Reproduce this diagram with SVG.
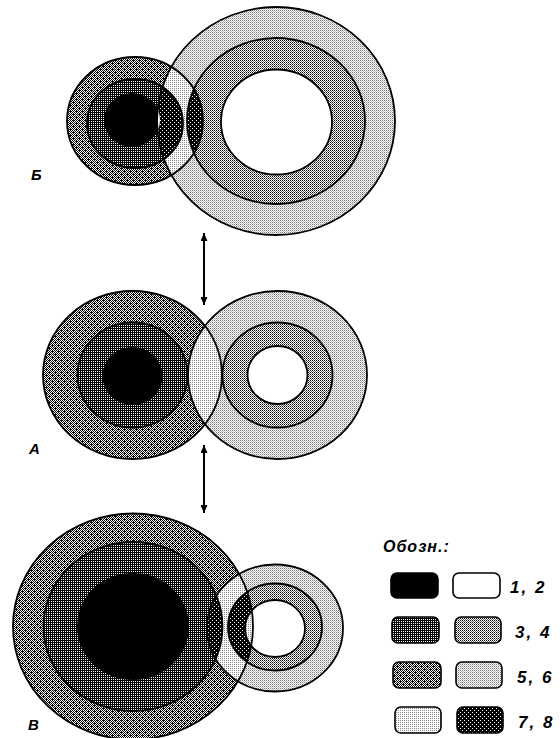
<svg xmlns="http://www.w3.org/2000/svg" width="560" height="738" viewBox="0 0 560 738">
<style>
.s{fill:none;stroke:#000;stroke-width:1.8}
.lbl{font-family:"Liberation Sans",Arial,sans-serif;font-weight:bold;font-style:italic;fill:#000}
.lg{stroke:#000;stroke-width:1.6}
.con{stroke:#000;stroke-width:2;fill:none}
</style>
<defs>
<pattern id="chk" width="2" height="2" patternUnits="userSpaceOnUse"><rect width="2" height="2" fill="#fff"/><rect width="1" height="1" fill="#000"/><rect x="1" y="1" width="1" height="1" fill="#000"/></pattern>
<pattern id="p3" width="2" height="2" patternUnits="userSpaceOnUse"><rect width="2" height="2" fill="#000"/><rect x="1" y="1" width="1" height="1" fill="#fff"/></pattern>
<pattern id="p4" width="2" height="2" patternUnits="userSpaceOnUse"><rect width="2" height="2" fill="#fff"/><rect width="1" height="1" fill="#000"/><rect x="1" y="1" width="1" height="1" fill="#666"/></pattern>
<pattern id="p5" width="6" height="6" patternUnits="userSpaceOnUse"><rect width="6" height="6" fill="url(#chk)"/><rect x="1" y="0" width="1" height="1" fill="#000"/><rect x="4" y="3" width="1" height="1" fill="#000"/></pattern>
<pattern id="p6" width="2" height="2" patternUnits="userSpaceOnUse"><rect width="2" height="2" fill="#fff"/><rect width="1" height="1" fill="#777"/><rect x="1" y="1" width="1" height="1" fill="#bbb"/></pattern>
<pattern id="p7" width="2" height="2" patternUnits="userSpaceOnUse"><rect width="2" height="2" fill="#fff"/><rect width="1" height="1" fill="#888"/></pattern>
<pattern id="p8" width="4" height="4" patternUnits="userSpaceOnUse"><rect width="4" height="4" fill="#000"/><rect width="1" height="1" fill="#fff"/><rect x="2" y="2" width="1" height="1" fill="#fff"/></pattern>
<clipPath id="bLo"><ellipse cx="135" cy="121" rx="68" ry="64"/></clipPath>
<clipPath id="bLm"><ellipse cx="135" cy="123.5" rx="48" ry="44.5"/></clipPath>
<clipPath id="bLc"><ellipse cx="132" cy="120" rx="28" ry="27"/></clipPath>
<clipPath id="aLo"><ellipse cx="132.5" cy="375" rx="89.5" ry="84"/></clipPath>
<clipPath id="vLo"><ellipse cx="133" cy="626.5" rx="120" ry="113"/></clipPath>
<clipPath id="vLm"><ellipse cx="133" cy="626.5" rx="89.5" ry="84.5"/></clipPath>
<marker id="ah" viewBox="0 0 8 7" refX="8" refY="3.5" markerWidth="8" markerHeight="7" markerUnits="userSpaceOnUse" orient="auto-start-reverse"><path d="M0,0 L8,3.5 L0,7 z" fill="#000"/></marker>
</defs>

<g id="fig-B-top">
<ellipse cx="135" cy="121" rx="68" ry="64" fill="url(#p5)"/>
<ellipse cx="135" cy="123.5" rx="48" ry="44.5" fill="url(#p3)"/>
<ellipse cx="132" cy="120" rx="28" ry="27" fill="#000"/>
<ellipse cx="276" cy="121" rx="119" ry="114" fill="url(#p6)"/>
<ellipse cx="276" cy="121" rx="89" ry="83" fill="url(#p4)"/>
<ellipse cx="276.5" cy="122" rx="55.5" ry="52.5" fill="#fff"/>
<g clip-path="url(#bLo)">
<ellipse cx="276" cy="121" rx="119" ry="114" fill="url(#p7)"/>
<ellipse cx="276" cy="121" rx="89" ry="83" fill="url(#p8)"/>
</g>
<g clip-path="url(#bLm)"><ellipse cx="276" cy="121" rx="119" ry="114" fill="url(#p8)"/></g>
<g clip-path="url(#bLc)"><ellipse cx="276" cy="121" rx="119" ry="114" fill="#fff"/></g>
<ellipse class="s" cx="135" cy="121" rx="68" ry="64"/>
<ellipse class="s" cx="135" cy="123.5" rx="48" ry="44.5"/>
<ellipse class="s" cx="276" cy="121" rx="119" ry="114"/>
<ellipse class="s" cx="276" cy="121" rx="89" ry="83"/>
<ellipse class="s" cx="276.5" cy="122" rx="55.5" ry="52.5"/>
<text class="lbl" x="31" y="180" font-size="15">Б</text>
</g>

<g id="fig-A">
<ellipse cx="132.5" cy="375" rx="89.5" ry="84" fill="url(#p5)"/>
<ellipse cx="132.5" cy="375" rx="55" ry="52.5" fill="url(#p3)"/>
<ellipse cx="132.5" cy="376" rx="30" ry="29" fill="#000"/>
<ellipse cx="277.5" cy="375" rx="89.5" ry="84" fill="url(#p6)"/>
<ellipse cx="277.5" cy="375" rx="55" ry="52.5" fill="url(#p4)"/>
<ellipse cx="277.5" cy="375" rx="30" ry="29" fill="#fff"/>
<g clip-path="url(#aLo)"><ellipse cx="277.5" cy="375" rx="89.5" ry="84" fill="url(#p7)"/></g>
<ellipse class="s" cx="132.5" cy="375" rx="89.5" ry="84"/>
<ellipse class="s" cx="132.5" cy="375" rx="55" ry="52.5"/>
<ellipse class="s" cx="277.5" cy="375" rx="89.5" ry="84"/>
<ellipse class="s" cx="277.5" cy="375" rx="55" ry="52.5"/>
<ellipse class="s" cx="277.5" cy="375" rx="30" ry="29"/>
<text class="lbl" x="29" y="454" font-size="15">А</text>
</g>

<g id="fig-V">
<ellipse cx="133" cy="626.5" rx="120" ry="113" fill="url(#p5)"/>
<ellipse cx="133" cy="626.5" rx="89.5" ry="84.5" fill="url(#p3)"/>
<ellipse cx="133" cy="626.5" rx="56" ry="53.5" fill="#000"/>
<ellipse cx="275" cy="628" rx="68" ry="63.5" fill="url(#p6)"/>
<ellipse cx="275" cy="627" rx="47" ry="43.5" fill="url(#p4)"/>
<ellipse cx="275" cy="628.5" rx="30" ry="28.5" fill="#fff"/>
<g clip-path="url(#vLo)">
<ellipse cx="275" cy="628" rx="68" ry="63.5" fill="url(#p7)"/>
<ellipse cx="275" cy="627" rx="47" ry="43.5" fill="url(#p8)"/>
<ellipse cx="275" cy="628.5" rx="30" ry="28.5" fill="url(#p7)"/>
</g>
<g clip-path="url(#vLm)"><ellipse cx="275" cy="628" rx="68" ry="63.5" fill="url(#p8)"/></g>
<ellipse class="s" cx="133" cy="626.5" rx="120" ry="113"/>
<ellipse class="s" cx="133" cy="626.5" rx="89.5" ry="84.5"/>
<ellipse class="s" cx="275" cy="628" rx="68" ry="63.5"/>
<ellipse class="s" cx="275" cy="627" rx="47" ry="43.5"/>
<ellipse class="s" cx="275" cy="628.5" rx="30" ry="28.5"/>
<text class="lbl" x="28" y="730" font-size="15">В</text>
</g>

<g id="connectors">
<line class="con" x1="204" y1="233" x2="204" y2="305" marker-start="url(#ah)" marker-end="url(#ah)"/>
<line class="con" x1="204" y1="445" x2="204" y2="513" marker-start="url(#ah)" marker-end="url(#ah)"/>
</g>

<g id="legend">
<text class="lbl" x="383" y="552" font-size="16" letter-spacing="1">Обозн.:</text>
<rect class="lg" x="391" y="573" width="47" height="25" rx="6" fill="#000"/>
<rect class="lg" x="453" y="573" width="47" height="25" rx="6" fill="#fff"/>
<text class="lbl" x="510" y="593" font-size="17" letter-spacing="2">1, 2</text>
<rect class="lg" x="392" y="617" width="47" height="26" rx="6" fill="url(#p3)"/>
<rect class="lg" x="455" y="617" width="46" height="26" rx="6" fill="url(#p4)"/>
<text class="lbl" x="515" y="638" font-size="17" letter-spacing="2">3, 4</text>
<rect class="lg" x="393" y="662" width="48" height="26" rx="6" fill="url(#p5)"/>
<rect class="lg" x="456" y="662" width="46" height="26" rx="6" fill="url(#p6)"/>
<text class="lbl" x="517" y="683" font-size="17" letter-spacing="2">5, 6</text>
<rect class="lg" x="395" y="707" width="46" height="26" rx="6" fill="url(#p7)"/>
<rect class="lg" x="457" y="707" width="46" height="26" rx="6" fill="url(#p8)"/>
<text class="lbl" x="518" y="728" font-size="17" letter-spacing="2">7, 8</text>
</g>
</svg>
